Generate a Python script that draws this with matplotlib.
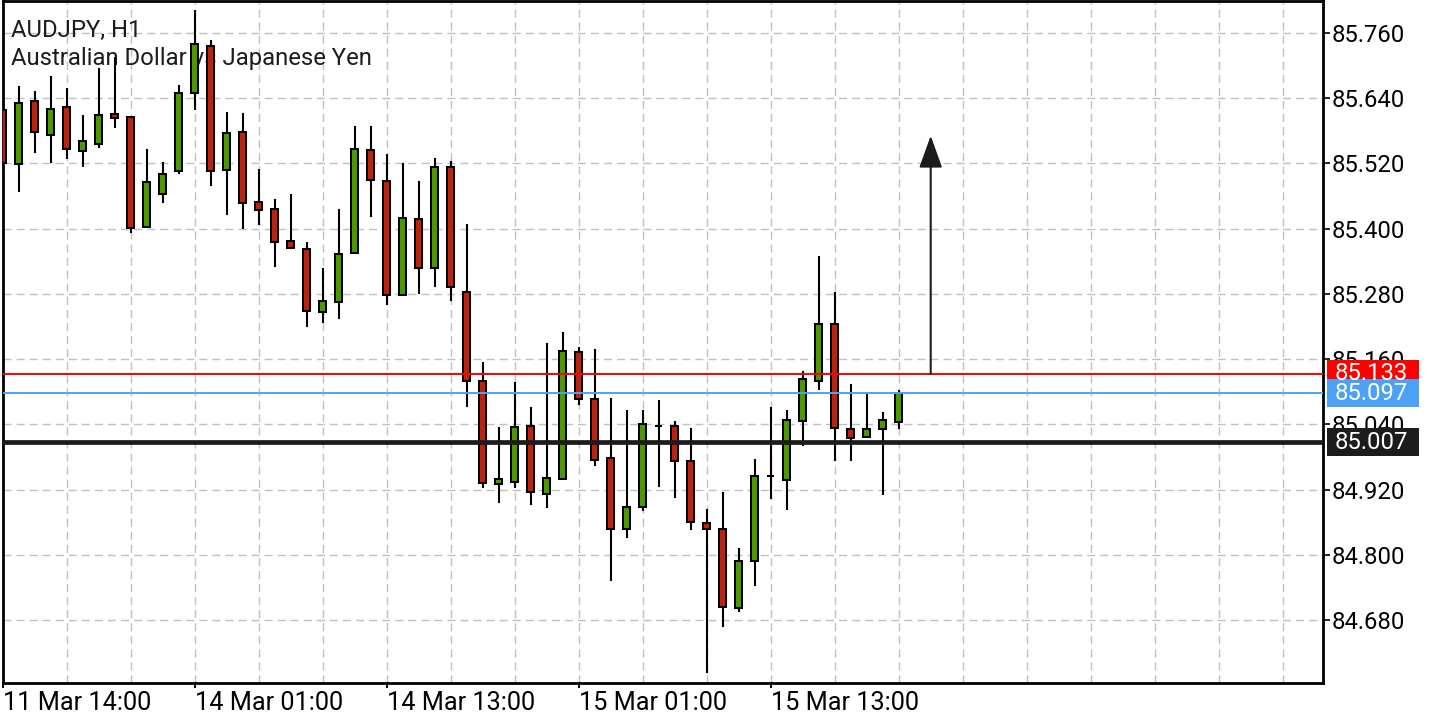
import matplotlib
matplotlib.use("Agg")
import matplotlib.pyplot as plt
import matplotlib.transforms as mtransforms
from matplotlib.patches import Rectangle
from matplotlib.ticker import MultipleLocator, FixedLocator

plt.rcParams['font.family'] = ['Roboto', 'DejaVu Sans']

# hourly AUDJPY candles
opens = [85.618, 85.519, 85.635, 85.573, 85.623, 85.543, 85.556, 85.611, 85.606, 85.403,
         85.463, 85.506, 85.650, 85.736, 85.508, 85.577, 85.449, 85.436, 85.377, 85.363,
         85.247, 85.265, 85.356, 85.544, 85.487, 85.278, 85.417, 85.327, 85.513, 85.283,
         85.120, 84.931, 84.934, 85.037, 84.911, 84.940, 85.173, 85.086, 84.978, 84.847,
         84.887, 85.037, 85.037, 84.972, 84.859, 84.847, 84.702, 84.788, 84.945, 84.937,
         85.046, 85.120, 85.224, 85.032, 85.016, 85.031, 85.045]
highs = [85.632, 85.663, 85.654, 85.681, 85.659, 85.610, 85.695, 85.716, 85.607, 85.546,
         85.523, 85.665, 85.803, 85.748, 85.615, 85.612, 85.509, 85.454, 85.463, 85.376,
         85.327, 85.437, 85.588, 85.588, 85.538, 85.521, 85.488, 85.530, 85.525, 85.408,
         85.154, 85.035, 85.117, 85.071, 85.189, 85.209, 85.183, 85.178, 85.089, 85.067,
         85.067, 85.085, 85.046, 85.034, 84.885, 84.916, 84.813, 84.977, 85.072, 85.067,
         85.138, 85.350, 85.284, 85.115, 85.098, 85.062, 85.104]
lows = [85.505, 85.468, 85.540, 85.520, 85.529, 85.513, 85.549, 85.586, 85.392, 85.402,
        85.448, 85.500, 85.618, 85.478, 85.426, 85.400, 85.406, 85.329, 85.363, 85.219,
        85.227, 85.233, 85.355, 85.421, 85.259, 85.277, 85.279, 85.292, 85.267, 85.072,
        84.923, 84.896, 84.923, 84.891, 84.886, 84.939, 85.075, 84.964, 84.752, 84.831,
        84.880, 84.924, 84.904, 84.845, 84.582, 84.667, 84.695, 84.742, 84.902, 84.882,
        85.000, 85.103, 84.973, 84.972, 85.015, 84.910, 85.031]
closes = [85.520, 85.631, 85.577, 85.620, 85.547, 85.561, 85.609, 85.603, 85.402, 85.486,
          85.500, 85.649, 85.739, 85.506, 85.576, 85.448, 85.435, 85.376, 85.364, 85.249,
          85.267, 85.353, 85.546, 85.489, 85.278, 85.419, 85.327, 85.513, 85.292, 85.119,
          84.932, 84.939, 85.035, 84.916, 84.941, 85.175, 85.086, 84.975, 84.847, 84.888,
          85.040, 85.037, 84.973, 84.861, 84.847, 84.704, 84.788, 84.945, 84.945, 85.048,
          85.123, 85.224, 85.034, 85.015, 85.031, 85.048, 85.097]

tick_pos = [0, 12, 24, 36, 48]
tick_labels = ["11 Mar 14:00", "14 Mar 01:00", "14 Mar 13:00", "15 Mar 01:00", "15 Mar 13:00"]

# horizontal levels
level_entry = 85.133
level_bid = 85.097
level_support = 85.007
arrow_x = 58
arrow_target = 85.571

green = '#4c9a00'
red = '#c1200f'
blue = '#4da1f5'
dark = '#1c1c1c'
fs = 17.2

fig = plt.figure(figsize=(14.4, 7.2), dpi=100)
W, H = 1440, 720
ax_l, ax_r, ax_t, ax_b = 2.7, 1322.7, 1.3, 683.3
ax = fig.add_axes([ax_l / W, 1 - ax_b / H, (ax_r - ax_l) / W, (ax_b - ax_t) / H])
ax.set_axisbelow(True)

x = list(range(len(opens)))
ax.vlines(x, lows, highs, color='black', linewidth=1.5, zorder=2)
body_col = [green if c >= o else red for o, c in zip(opens, closes)]
ax.bar(x, [c - o for o, c in zip(opens, closes)], bottom=opens, width=0.46,
       color=body_col, edgecolor='black', linewidth=1.45, zorder=3)

ax.axhline(level_entry, color='#ff0000', linewidth=1.4, zorder=4)
ax.axhline(level_bid, color=blue, linewidth=1.4, zorder=4)
ax.axhline(level_support, color=dark, linewidth=3.4, zorder=4)

ax.annotate("", xy=(arrow_x, arrow_target), xytext=(arrow_x, level_entry),
            arrowprops=dict(arrowstyle='-|>,head_length=1.0,head_width=0.36',
                            mutation_scale=20, color=dark, lw=1.5,
                            shrinkA=0, shrinkB=0), zorder=5)

ax.set_xlim(0, 82.5)
ax.set_ylim(84.5635, 85.8183)

ax.yaxis.tick_right()
ax.yaxis.set_major_locator(FixedLocator([84.68 + 0.12 * k for k in range(10)]))
ax.yaxis.set_major_formatter(plt.FuncFormatter(lambda v, p: f"{v:.3f}"))
ax.xaxis.set_major_locator(FixedLocator(tick_pos))
ax.set_xticklabels(tick_labels, ha='left')
ax.xaxis.set_minor_locator(MultipleLocator(4))

ax.tick_params(axis='y', which='major', direction='out', length=5, width=1.2,
               pad=1.5, labelsize=fs, colors='black')
ax.tick_params(axis='x', which='major', direction='out', length=3.6, width=1.4,
               pad=2.0, labelsize=18.2, colors='black')
ax.tick_params(axis='x', which='minor', length=0)

ax.grid(True, axis='x', which='both', color='#c0c0c0', linewidth=1.0,
        linestyle=(0, (5.8, 3.6)))
ax.grid(True, axis='y', which='major', color='#c0c0c0', linewidth=1.0,
        linestyle=(0, (5.8, 3.6)))

for s in ax.spines.values():
    s.set_linewidth(2.0)
    s.set_color('black')

# price boxes on the right scale
trans = mtransforms.blended_transform_factory(ax.transAxes, ax.transData)
ppx = (85.8183 - 84.5635) / (ax_b - ax_t)
box_h = 28 * ppx
box_x0 = (1327.3 - ax_l) / (ax_r - ax_l)
box_w = 92 / (ax_r - ax_l)
text_x = (1335 - ax_l) / (ax_r - ax_l)
for lvl, col in [(level_entry, '#ff0000'), (level_bid, blue), (level_support, dark)]:
    ax.add_patch(Rectangle((box_x0, lvl - box_h / 2), box_w, box_h, transform=trans,
                           facecolor=col, edgecolor='none', clip_on=False, zorder=10))
    ax.text(text_x, lvl, f"{lvl:.3f}", transform=trans, color='white', fontsize=fs,
            va='center', ha='left', clip_on=False, zorder=11)

ax.text(11 / W, 1 - 37 / H, "AUDJPY, H1", transform=fig.transFigure, fontsize=fs,
        color=dark, va='baseline', ha='left', zorder=1)
ax.text(11 / W, 1 - 65 / H, "Australian Dollar vs Japanese Yen", transform=fig.transFigure,
        fontsize=fs, color=dark, va='baseline', ha='left', zorder=1)

fig.savefig("out.png", dpi=100)
